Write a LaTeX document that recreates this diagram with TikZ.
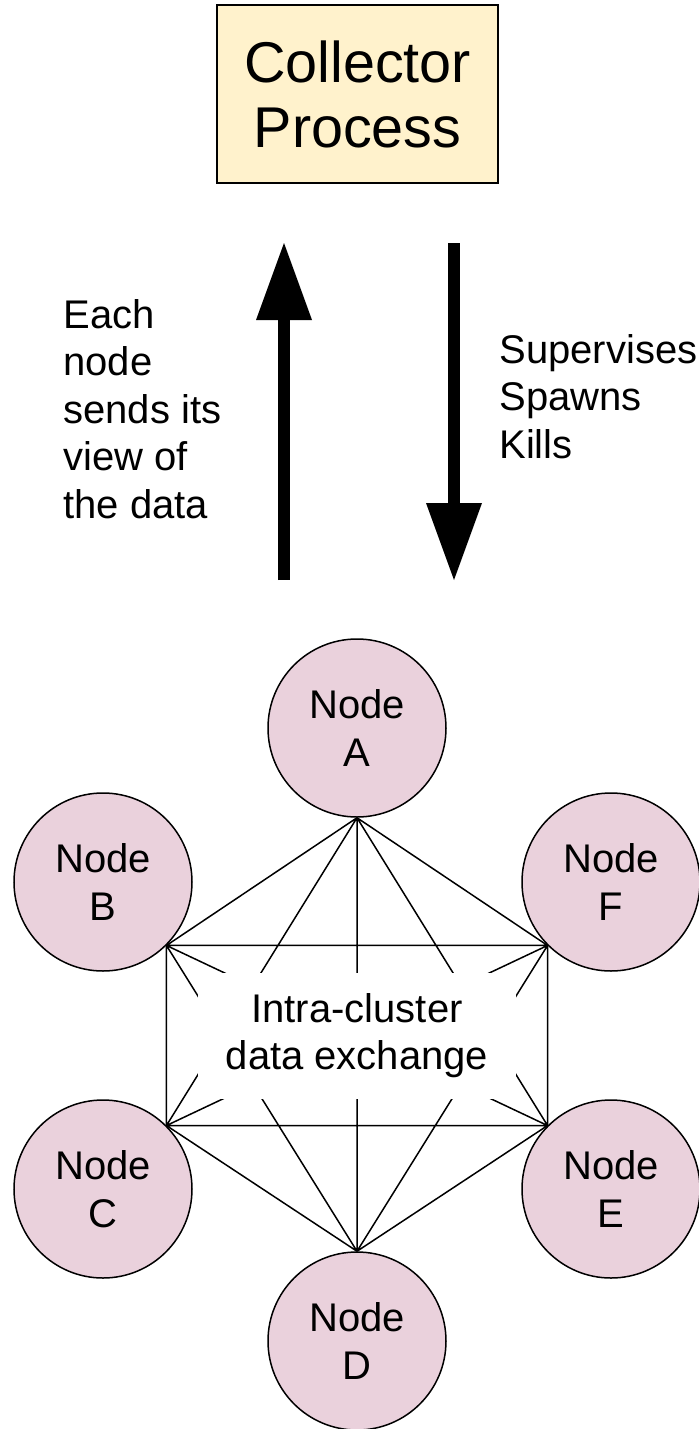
\documentclass[tikz,border=0pt]{standalone}
\usepackage{fontspec}
\setmainfont{Liberation Sans}
\usetikzlibrary{arrows.meta}

\definecolor{collectorfill}{HTML}{FFF2CC}
\definecolor{peerfill}{HTML}{EAD1DC}

\tikzset{
  peer/.style={circle,draw,fill=peerfill,line width=0.75pt,minimum size=89pt,
    inner sep=0pt,align=center,font=\fontsize{20}{24}\selectfont},
  link/.style={line width=0.75pt},
  bigarrow/.style={line width=6pt,-{Triangle[length=38.5pt,width=28pt,line width=0pt]}},
  caption/.style={anchor=north west,inner sep=0pt,align=left,
    font=\fontsize{20}{23.75}\selectfont}
}

\begin{document}
\begin{tikzpicture}[x=0.5pt,y=-0.5pt]
  \useasboundingbox (0,0) rectangle (698,1429);

  \node[draw,fill=collectorfill,line width=0.75pt,minimum width=140.5pt,minimum height=89pt,
    align=center,font=\fontsize{28.75}{32.5}\selectfont] (collector) at (357.5,94) {Collector\\Process};

  % up and down arrows between collector and cluster
  \coordinate (upFrom) at (284,580);
  \coordinate (upTo) at (284,243);
  \coordinate (downFrom) at (454,243);
  \coordinate (downTo) at (454,580);
  \draw[bigarrow] (upFrom) -- (upTo);
  \draw[bigarrow] (downFrom) -- (downTo);

  \node[caption] (sends) at (63,299) {Each\\node\\sends its\\view of\\the data};
  \node[caption] (duties) at (499,334) {Supervises\\Spawns\\Kills};

  % the cluster
  \node[peer] (nA) at (357,728) {Node\\A};
  \node[peer] (nB) at (103,882) {Node\\B};
  \node[peer] (nF) at (611,882) {Node\\F};
  \node[peer] (nC) at (103,1189) {Node\\C};
  \node[peer] (nE) at (611,1189) {Node\\E};
  \node[peer] (nD) at (357,1341) {Node\\D};

  \draw[link] (nA.south) -- (nB.south east) (nA.south) -- (nF.south west)
    (nA.south) -- (nC.north east) (nA.south) -- (nE.north west) (nA.south) -- (nD.north)
    (nB.south east) -- (nF.south west) (nB.south east) -- (nC.north east)
    (nB.south east) -- (nE.north west) (nB.south east) -- (nD.north)
    (nF.south west) -- (nC.north east) (nF.south west) -- (nE.north west)
    (nF.south west) -- (nD.north)
    (nC.north east) -- (nE.north west) (nC.north east) -- (nD.north)
    (nE.north west) -- (nD.north);

  \node[fill=white,minimum width=159pt,minimum height=63pt,inner sep=0pt,align=center,
    font=\fontsize{20}{23.5}\selectfont] (exchange) at (357,1036) {Intra-cluster\\data exchange};
\end{tikzpicture}
\end{document}
